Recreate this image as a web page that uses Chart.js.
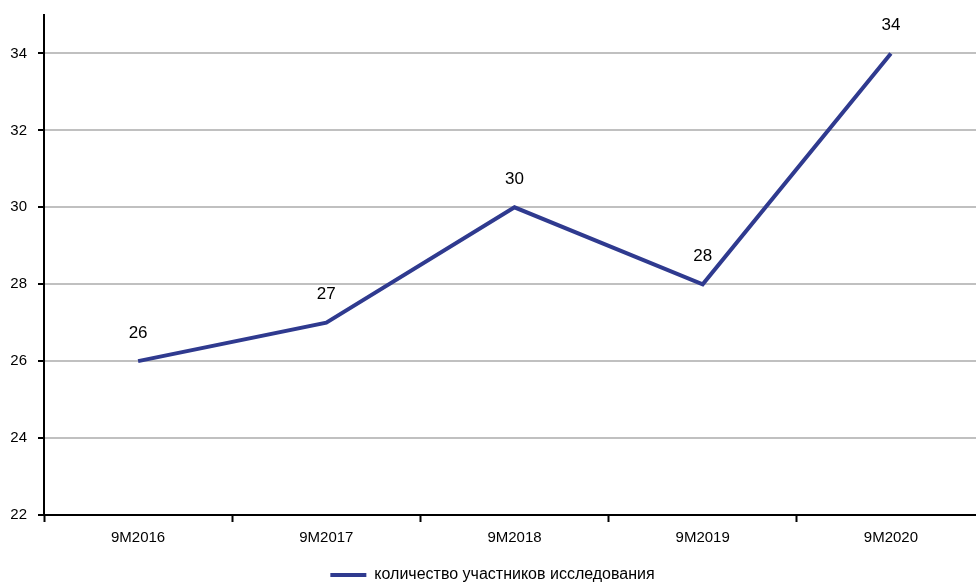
<!DOCTYPE html>
<html>
<head>
<meta charset="utf-8">
<script src="https://cdn.jsdelivr.net/npm/chart.js@4/dist/chart.umd.min.js"></script>
<style>
  html, body { margin:0; padding:0; background:#fff; overflow:hidden; }
  #wrap { width:990px; height:583px; position:relative; }
</style>
</head>
<body>
<div id="wrap"><canvas id="lineChart"></canvas></div>
<script>
// данные
const periods = ['9M2016','9M2017','9M2018','9M2019','9M2020'];
const participants = [26,27,30,28,34];
const seriesName = 'количество участников исследования';
const yTicks = [22,24,26,28,30,32,34];

const lineColor = '#2f3a8f';
const font = 'Liberation Sans, Arial, sans-serif';

// подписи значений над точками
const valueLabels = {
  id:'valueLabels',
  afterDatasetsDraw(chart){
    const ctx = chart.ctx;
    const meta = chart.getDatasetMeta(0);
    ctx.save();
    ctx.font = '17px ' + font;
    ctx.fillStyle = '#000';
    ctx.textAlign = 'center';
    ctx.textBaseline = 'middle';
    meta.data.forEach((pt, i) => {
      ctx.fillText(participants[i], pt.x, pt.y - 28);
    });
    ctx.restore();
  }
};

new Chart(document.getElementById('lineChart'), {
  type:'line',
  data:{
    labels:periods,
    datasets:[{
      label:seriesName,
      data:participants,
      borderColor:lineColor,
      backgroundColor:lineColor,
      borderWidth:4,
      pointRadius:0,
      tension:0
    }]
  },
  options:{
    responsive:true,
    maintainAspectRatio:false,
    animation:false,
    layout:{padding:{top:15,left:0,right:5,bottom:-10}},
    scales:{
      x:{
        offset:true,
        afterFit(s){ s.height = 46; s.paddingLeft = 0; s.paddingRight = 0; },
        grid:{offset:true, drawOnChartArea:false, tickLength:7, tickColor:'#000', tickWidth:2},
        border:{color:'#000', width:2},
        ticks:{color:'#000', font:{family:font, size:15}, padding:7}
      },
      y:{
        min:22, max:35,
        afterBuildTicks(axis){ axis.ticks = yTicks.map(v => ({value:v})); },
        afterFit(s){ s.width = 44; s.paddingTop = 0; s.paddingBottom = 0; },
        grid:{color:'#c0c0c0', lineWidth:2, tickLength:6, tickColor:'#000', tickWidth:2},
        border:{color:'#000', width:2},
        ticks:{color:'#000', font:{family:font, size:15}, padding:11}
      }
    },
    plugins:{
      legend:{
        position:'bottom',
        labels:{
          color:'#000',
          font:{family:font, size:16},
          boxWidth:36, boxHeight:4, padding:6,
          generateLabels(chart){
            return [{text:seriesName, fillStyle:lineColor, strokeStyle:lineColor, lineWidth:0, datasetIndex:0}];
          }
        }
      },
      tooltip:{enabled:false}
    }
  },
  plugins:[valueLabels]
});
</script>
</body>
</html>
